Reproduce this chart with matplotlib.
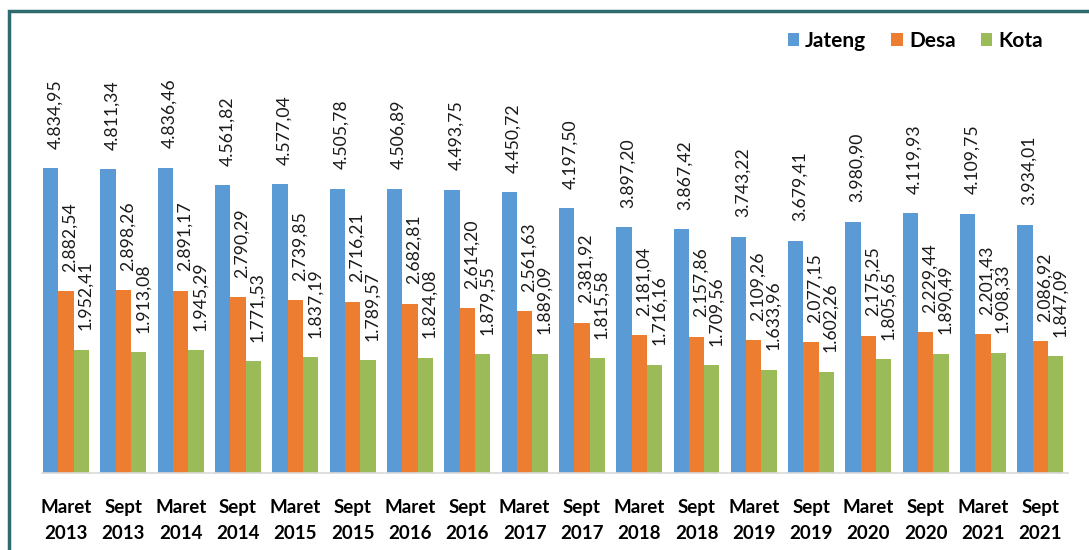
import matplotlib
import numpy as np
from matplotlib import pyplot as plt
from matplotlib.patches import Rectangle

matplotlib.use('Agg')

periods = ['Maret\n2013', 'Sept\n2013', 'Maret\n2014', 'Sept\n2014', 'Maret\n2015', 'Sept\n2015',
           'Maret\n2016', 'Sept\n2016', 'Maret\n2017', 'Sept\n2017', 'Maret\n2018', 'Sept\n2018',
           'Maret\n2019', 'Sept\n2019', 'Maret\n2020', 'Sept\n2020', 'Maret\n2021', 'Sept\n2021']
jateng = [4834.95, 4811.34, 4836.46, 4561.82, 4577.04, 4505.78, 4506.89, 4493.75, 4450.72,
          4197.50, 3897.20, 3867.42, 3743.22, 3679.41, 3980.90, 4119.93, 4109.75, 3934.01]
desa = [2882.54, 2898.26, 2891.17, 2790.29, 2739.85, 2716.21, 2682.81, 2614.20, 2561.63,
        2381.92, 2181.04, 2157.86, 2109.26, 2077.15, 2175.25, 2229.44, 2201.43, 2086.92]
kota = [1952.41, 1913.08, 1945.29, 1771.53, 1837.19, 1789.57, 1824.08, 1879.55, 1889.09,
        1815.58, 1716.16, 1709.56, 1633.96, 1602.26, 1805.65, 1890.49, 1908.33, 1847.09]

series = [('Jateng', jateng, '#5b9bd5'), ('Desa', desa, '#ed7d31'), ('Kota', kota, '#9bbb59')]


def fmt_id(v):
    # format angka gaya Indonesia: 4.834,95
    s = '{:,.2f}'.format(v)
    return s.replace(',', '#').replace('.', ',').replace('#', '.')


plt.rcParams['font.family'] = ['Lato', 'DejaVu Sans']

fig = plt.figure(figsize=(10.89, 5.5), dpi=100)
ax = fig.add_axes([0.0386, 0.14, 0.942, 0.751])

x = np.arange(len(periods))
w = 0.267
for i, (name, vals, color) in enumerate(series):
    pos = x + (i - 1) * w
    ax.bar(pos, vals, width=w, color=color, label=name)
    for px, v in zip(pos, vals):
        ax.annotate(fmt_id(v), (px, v), xytext=(3, 14), textcoords='offset points',
                    rotation=90, ha='center', va='bottom', fontsize=12.7, color='#1a1a1a')

ax.set_xlim(-0.42, 17.48)
ax.set_ylim(0, 6548)
ax.set_xticks(x)
ax.set_xticklabels(periods, fontsize=13.5, fontweight='bold', linespacing=1.6)
ax.tick_params(axis='x', length=0, pad=19)
ax.set_yticks([])
for sp in ['top', 'right', 'left']:
    ax.spines[sp].set_visible(False)
ax.spines['bottom'].set_color('#d9d9d9')
ax.spines['bottom'].set_linewidth(1.2)

fig.legend(loc='upper right', bbox_to_anchor=(0.975, 0.978), ncol=3, frameon=False,
           prop={'weight': 'bold', 'size': 15}, handlelength=0.55, handleheight=0.55,
           handletextpad=0.3, columnspacing=1.2)

# bingkai teal
fig.patches.append(Rectangle((9 / 1089, -0.05), 1.1, 1 - 11 / 550 + 0.05, transform=fig.transFigure,
                             fill=False, edgecolor='#2f6b6e', linewidth=2.5))

plt.savefig('out.png', dpi=100)
plt.close()
